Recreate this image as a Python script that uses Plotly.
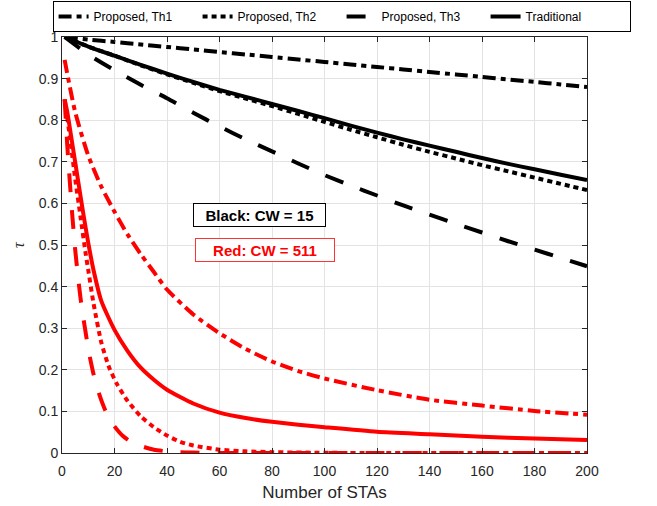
import plotly.graph_objects as go

# ---- data ----
n_black = [1, 10, 20, 30, 40, 50, 60, 70, 80, 90, 100, 110, 120, 130, 140, 150, 160, 170, 180, 190, 200]
black_th1 = [1.0, 0.994, 0.988, 0.982, 0.976, 0.970, 0.964, 0.958, 0.952, 0.946, 0.940,
             0.934, 0.928, 0.922, 0.916, 0.910, 0.904, 0.898, 0.892, 0.886, 0.880]
black_th2 = [1.0, 0.977, 0.955, 0.932, 0.910, 0.890, 0.870, 0.852, 0.834, 0.815, 0.796,
             0.777, 0.759, 0.741, 0.724, 0.708, 0.692, 0.677, 0.662, 0.647, 0.632]
black_th3 = [1.0, 0.958, 0.920, 0.885, 0.853, 0.818, 0.785, 0.754, 0.725, 0.696, 0.668,
             0.643, 0.619, 0.595, 0.573, 0.551, 0.530, 0.509, 0.489, 0.469, 0.449]
black_trad = [1.0, 0.977, 0.955, 0.933, 0.912, 0.892, 0.873, 0.856, 0.839, 0.822, 0.805,
              0.787, 0.770, 0.754, 0.739, 0.724, 0.709, 0.695, 0.682, 0.669, 0.656]

n_red_th1 = [1, 5, 10, 15, 20, 25, 30, 35, 40, 50, 60, 70, 80, 90, 100, 120, 140, 160, 180, 200]
red_th1 = [0.945, 0.82, 0.715, 0.64, 0.58, 0.525, 0.478, 0.435, 0.393, 0.333, 0.288, 0.25,
           0.22, 0.197, 0.179, 0.151, 0.128, 0.114, 0.101, 0.092]

n_red_th2 = [1, 3, 5, 7, 9, 10, 12, 15, 18, 21, 25, 30, 35, 40, 45, 50, 60, 70, 80, 100,
             120, 140, 160, 180, 200]
red_th2 = [0.85, 0.76, 0.66, 0.57, 0.48, 0.44, 0.36, 0.265, 0.205, 0.165, 0.125, 0.088, 0.062,
           0.042, 0.027, 0.018, 0.008, 0.004, 0.002, 0.0005, 0, 0, 0, 0, 0]

n_red_th3 = [1, 2, 3, 4, 5, 6, 7, 8, 9, 10, 12, 14, 16, 18, 20, 23, 26, 30, 35, 40, 45, 50,
             60, 80, 100, 120, 140, 160, 180, 200]
red_th3 = [0.85, 0.74, 0.65, 0.565, 0.49, 0.43, 0.375, 0.33, 0.29, 0.25, 0.19, 0.145, 0.11,
           0.083, 0.064, 0.042, 0.028, 0.017, 0.008, 0.004, 0.002, 0.001, 0, 0, 0, 0, 0, 0, 0, 0]

n_red_trad = [1, 2, 4, 6, 8, 10, 12, 15, 20, 25, 30, 35, 40, 50, 60, 70, 80, 90, 100, 120,
              140, 160, 180, 200]
red_trad = [0.85, 0.82, 0.74, 0.66, 0.58, 0.505, 0.44, 0.365, 0.296, 0.245, 0.205, 0.176, 0.152,
            0.119, 0.097, 0.084, 0.075, 0.068, 0.062, 0.051, 0.045, 0.039, 0.035, 0.031]

legend_names = ["Proposed, Th1", "Proposed, Th2", "Proposed, Th3", "Traditional"]
x_ticks = list(range(0, 201, 20))
y_ticks = [round(i * 0.1, 1) for i in range(11)]

# ---- styling ----
DASH = {
    "th1": "13px,5px,5px,5px",
    "th2": "5px,4px",
    "th3": "19px,18px",
    "trad": "solid",
}
LW = 4
FONT = "Liberation Sans, Arial, Helvetica, sans-serif"
AXC = "#262626"

fig = go.Figure()

black_series = [(black_th1, "th1"), (black_th2, "th2"), (black_th3, "th3"), (black_trad, "trad")]
for (ys, key), name in zip(black_series, legend_names):
    fig.add_trace(go.Scatter(x=n_black, y=ys, mode="lines", name=name,
                             line=dict(color="black", width=LW, dash=DASH[key], shape="spline",
                                       smoothing=0.6)))

red_series = [(n_red_th1, red_th1, "th1"), (n_red_th2, red_th2, "th2"),
              (n_red_th3, red_th3, "th3"), (n_red_trad, red_trad, "trad")]
for xs, ys, key in red_series:
    fig.add_trace(go.Scatter(x=xs, y=ys, mode="lines", showlegend=False,
                             line=dict(color="red", width=LW, dash=DASH[key], shape="spline",
                                       smoothing=0.6)))

fig.add_annotation(x=75.4, y=0.573, xref="x", yref="y", text="<b>Black: CW = 15</b>",
                   showarrow=False, font=dict(family=FONT, size=15, color="black"),
                   bgcolor="white", bordercolor="black", borderwidth=1, borderpad=2,
                   width=127, height=18)
fig.add_annotation(x=77.3, y=0.489, xref="x", yref="y", text="<b>Red: CW = 511</b>",
                   showarrow=False, font=dict(family=FONT, size=15, color="red"),
                   bgcolor="white", bordercolor="#ff3333", borderwidth=1, borderpad=2,
                   width=134, height=18)

axis_common = dict(showgrid=True, gridcolor="#e3e3e3", gridwidth=1, zeroline=False,
                   showline=True, linecolor=AXC, linewidth=1, mirror="ticks",
                   ticks="inside", ticklen=5, tickcolor=AXC,
                   tickfont=dict(family=FONT, size=14, color=AXC))

fig.update_layout(
    width=657, height=506,
    margin=dict(l=62, r=70, t=37, b=53, autoexpand=False),
    paper_bgcolor="white", plot_bgcolor="white",
    font=dict(family=FONT, color=AXC),
    xaxis=dict(range=[0, 200], tickvals=x_ticks, ticktext=[str(v) for v in x_ticks],
               ticklabelstandoff=5,
               title=dict(text="Number of STAs", font=dict(family=FONT, size=17, color=AXC),
                          standoff=8),
               **axis_common),
    yaxis=dict(range=[0, 1], tickvals=y_ticks, ticktext=[("%g" % v) for v in y_ticks],
               title=dict(text="<i>τ</i>", font=dict(family="Liberation Serif, Times New Roman, serif",
                                                     size=16, color=AXC), standoff=10),
               **axis_common),
    legend=dict(orientation="h", xref="paper", yref="paper",
                x=1.083, xanchor="right", y=1.0865, yanchor="top",
                bordercolor="black", borderwidth=1, bgcolor="rgba(255,255,255,0)",
                font=dict(family=FONT, size=12, color="black"),
                entrywidth=99, entrywidthmode="pixels", traceorder="normal",
                itemwidth=30, tracegroupgap=0),
)

fig.write_html("out.html")
